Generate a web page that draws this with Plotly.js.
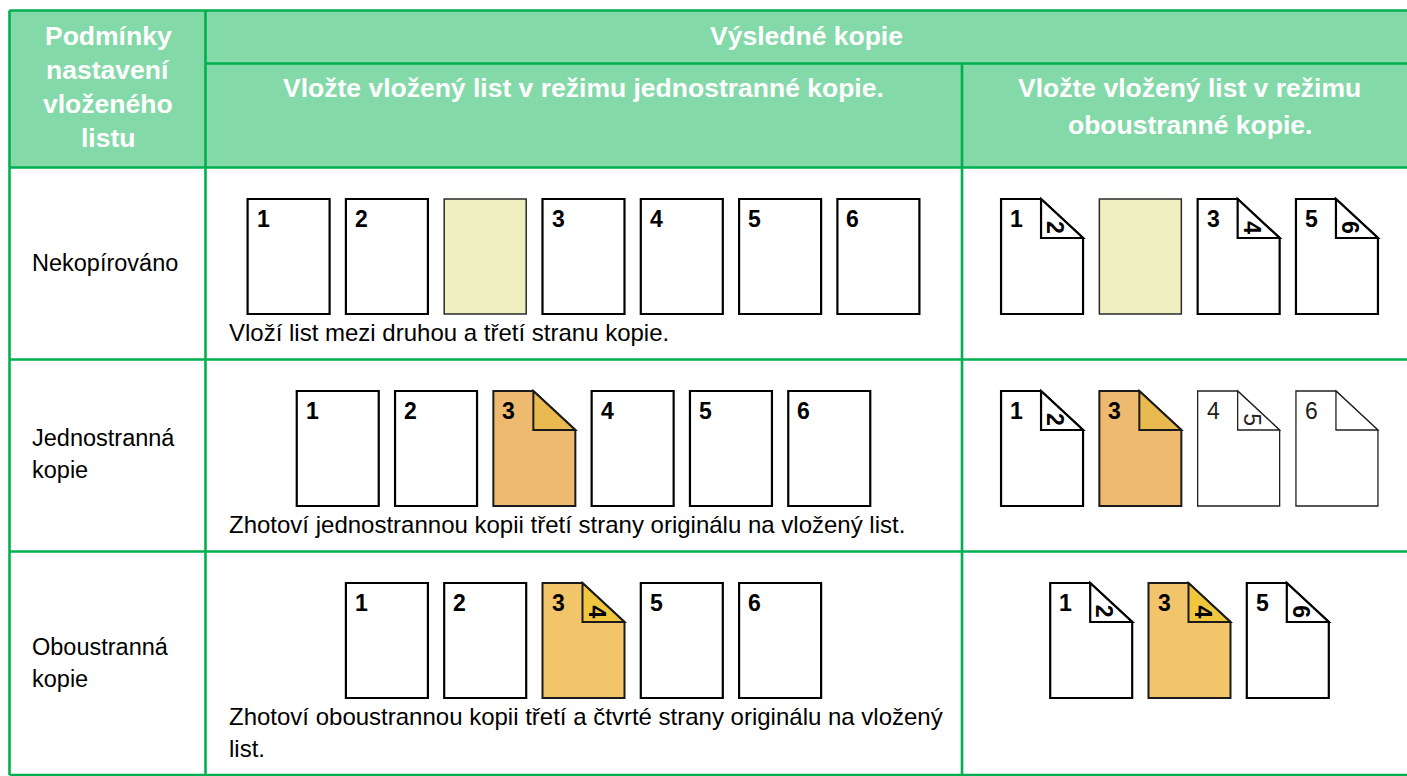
<!DOCTYPE html>
<html>
<head>
<meta charset="utf-8">
<script src="https://cdn.plot.ly/plotly-3.0.1.min.js"></script>
<style>html,body{margin:0;padding:0;background:#fff;}#chart{width:1407px;height:776px;}</style>
</head>
<body>
<div id="chart"></div>
<script>
// ---------- data ----------
const headerTop = "Výsledné kopie";
const headerCol1 = ["Podmínky", "nastavení", "vloženého", "listu"];
const headerMid = ["Vložte vložený list v režimu jednostranné kopie."];
const headerRight = ["Vložte vložený list v režimu", "oboustranné kopie."];
const rowLabels = [["Nekopírováno"], ["Jednostranná", "kopie"], ["Oboustranná", "kopie"]];
const captions = [
  ["Vloží list mezi druhou a třetí stranu kopie."],
  ["Zhotoví jednostrannou kopii třetí strany originálu na vložený list."],
  ["Zhotoví oboustrannou kopii třetí a čtvrté strany originálu na vložený", "list."]
];
// middle column (one-sided copies): front number, back number (null = flat sheet), kind
const midFront = [["1", "2", "", "3", "4", "5", "6"], ["1", "2", "3", "4", "5", "6"], ["1", "2", "3", "5", "6"]];
const midBack = [[null, null, null, null, null, null, null], [null, null, "", null, null, null], [null, null, "4", null, null]];
const midKind = [["p", "p", "s", "p", "p", "p", "p"], ["p", "p", "o", "p", "p", "p"], ["p", "p", "y", "p", "p"]];
// right column (two-sided copies)
const rightFront = [["1", "", "3", "5"], ["1", "3", "4", "6"], ["1", "3", "5"]];
const rightBack = [["2", null, "4", "6"], ["2", "", "5", ""], ["2", "4", "6"]];
const rightKind = [["p", "s", "p", "p"], ["p", "o", "t", "t"], ["p", "y", "p"]];

// ---------- styles / geometry ----------
const W = 1407, H = 776;
const GREEN = "#00b050", HEAD = "#84d9a9";
const FONT = "Liberation Sans, Arial, Helvetica, sans-serif";
const KIND = {
  p: {fill: "#ffffff", fold: "#ffffff", line: "#000000", lw: 2.2, bold: true, num: "#000000"},
  s: {fill: "#f0efc2", fold: "#f0efc2", line: "#2a2a2a", lw: 1.5, bold: true, num: "#000000"},
  o: {fill: "#edba70", fold: "#e8ba50", line: "#1a1a1a", lw: 2, bold: true, num: "#000000"},
  y: {fill: "#f3c56a", fold: "#f0c63e", line: "#1a1a1a", lw: 2, bold: true, num: "#000000"},
  t: {fill: "#ffffff", fold: "#ffffff", line: "#231f20", lw: 1.3, bold: false, num: "#231f20"}
};
const G = {
  left: 9.5, top: 10.5, col1: 205.5, col2: 962, headMid: 63.5, headBot: 167.5,
  rowTops: [167.5, 359.5, 551.5], bottom: 775,
  pageW: 82, pageH: 115, gap: 98.3, foldW: 42, foldH: 39,
  midCenter: 583.5, rightCenter: 1189.5, pageOffset: 31.5, capOffset: 18.5, capLine: 32
};

const shapes = [];
const ann = [];

// header background
shapes.push({type: "rect", xref: "x", yref: "y", x0: G.left, x1: W + 20, y0: G.top, y1: G.headBot,
  fillcolor: HEAD, line: {width: 0}, layer: "below"});

// grid lines
function line(x0, y0, x1, y1) {
  shapes.push({type: "line", xref: "x", yref: "y", x0, y0, x1, y1, line: {color: GREEN, width: 2.6}});
}
line(G.left, G.top, W + 20, G.top);
line(G.col1, G.headMid, W + 20, G.headMid);
line(G.left, G.headBot, W + 20, G.headBot);
G.rowTops.slice(1).forEach(y => line(G.left, y, W + 20, y));
line(G.left, G.bottom, W + 20, G.bottom);
line(G.left, G.top, G.left, G.bottom);
line(G.col1, G.top, G.col1, G.bottom);
line(G.col2, G.headMid, G.col2, G.bottom);

function text(t, x, y, opt) {
  ann.push(Object.assign({xref: "x", yref: "y", x, y, text: t, showarrow: false,
    xanchor: "center", yanchor: "middle", borderpad: 0,
    font: {family: FONT, size: 24, color: "#000000"}}, opt || {}));
}

// header text
const hf = {family: FONT, size: 26.5, color: "#ffffff", weight: 700};
text("<b>" + headerTop + "</b>", (G.col1 + 1407) / 2 + 0.5, 36, {font: hf});
headerCol1.forEach((t, i) => text("<b>" + t + "</b>", (G.left + G.col1) / 2 + 0.5, 36 + i * 34, {font: hf}));
headerMid.forEach((t, i) => text("<b>" + t + "</b>", G.midCenter, 88 + i * 37, {font: hf}));
headerRight.forEach((t, i) => text("<b>" + t + "</b>", G.rightCenter, 88 + i * 37, {font: hf}));

// row labels
const labelY = [[263], [438, 470], [647, 679]];
rowLabels.forEach((lines, r) => lines.forEach((t, i) =>
  text(t, 31, labelY[r][i], {xanchor: "left", font: {family: FONT, size: 23.5, color: "#000000"}})));

// pages
function drawPage(x, y, front, back, kind) {
  const k = KIND[kind];
  const w = G.pageW, h = G.pageH, fw = G.foldW, fh = G.foldH;
  const folded = back !== null;
  const body = folded
    ? `M${x},${y} L${x + w - fw},${y} L${x + w},${y + fh} L${x + w},${y + h} L${x},${y + h} Z`
    : `M${x},${y} L${x + w},${y} L${x + w},${y + h} L${x},${y + h} Z`;
  shapes.push({type: "path", xref: "x", yref: "y", path: body, fillcolor: k.fill, line: {color: k.line, width: k.lw}});
  if (folded) {
    shapes.push({type: "path", xref: "x", yref: "y",
      path: `M${x + w - fw},${y} L${x + w - fw},${y + fh} L${x + w},${y + fh} Z`,
      fillcolor: k.fold, line: {color: k.line, width: k.lw}});
  }
  const nf = {family: FONT, size: 23, color: k.num, weight: k.bold ? 700 : 400};
  if (front) text(k.bold ? "<b>" + front + "</b>" : front, x + 15.5, y + 20, {font: nf});
  if (back) text(k.bold ? "<b>" + back + "</b>" : back, x + w - fw + 14.5, y + 28.5, {font: nf, textangle: 90});
}
function drawRow(fronts, backs, kinds, center, top) {
  const n = fronts.length;
  const x0 = center - ((n - 1) * G.gap + G.pageW) / 2;
  fronts.forEach((f, i) => drawPage(x0 + i * G.gap, top, f, backs[i], kinds[i]));
}
G.rowTops.forEach((rt, r) => {
  const top = rt + G.pageOffset;
  drawRow(midFront[r], midBack[r], midKind[r], G.midCenter, top);
  drawRow(rightFront[r], rightBack[r], rightKind[r], G.rightCenter, top);
  captions[r].forEach((t, i) => text(t, 227.5, top + G.pageH + G.capOffset + i * G.capLine,
    {xanchor: "left", font: {family: FONT, size: 24, color: "#000000"}}));
});

const layout = {
  width: W, height: H, margin: {l: 0, r: 0, t: 0, b: 0, pad: 0},
  paper_bgcolor: "#ffffff", plot_bgcolor: "#ffffff", showlegend: false,
  xaxis: {range: [0, W], visible: false, fixedrange: true, autorange: false},
  yaxis: {range: [H, 0], visible: false, fixedrange: true, autorange: false},
  shapes, annotations: ann
};
Plotly.newPlot("chart", [{type: "scatter", x: [], y: [], mode: "markers", hoverinfo: "skip"}], layout,
  {displayModeBar: false, staticPlot: true});
</script>
</body>
</html>
